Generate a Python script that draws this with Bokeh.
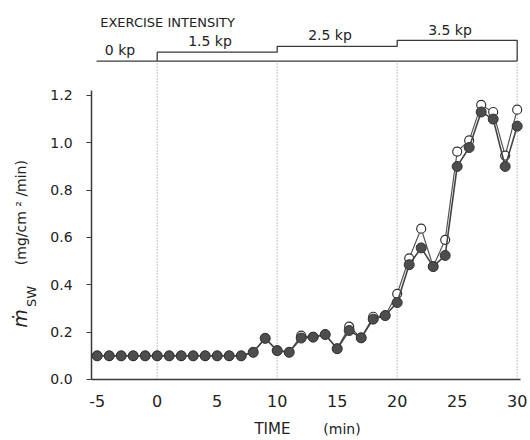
import math
from bokeh.plotting import figure
from bokeh.models import Range1d, FixedTicker, PrintfTickFormatter, Label, ColumnDataSource
from bokeh.embed import file_html
from bokeh.resources import INLINE

# ---- data ----
time_min = [-5, -4, -3, -2, -1, 0, 1, 2, 3, 4, 5, 6, 7, 8, 9, 10, 11, 12, 13, 14, 15,
            16, 17, 18, 19, 20, 21, 22, 23, 24, 25, 26, 27, 28, 29, 30]
msw_filled = [0.10, 0.10, 0.10, 0.10, 0.10, 0.10, 0.10, 0.10, 0.10, 0.10, 0.10, 0.10, 0.10,
              0.115, 0.174, 0.122, 0.115, 0.175, 0.179, 0.19, 0.13,
              0.207, 0.176, 0.255, 0.27, 0.325, 0.485, 0.556, 0.477, 0.524,
              0.90, 0.98, 1.13, 1.10, 0.90, 1.07]
msw_open = [0.10, 0.10, 0.10, 0.10, 0.10, 0.10, 0.10, 0.10, 0.10, 0.10, 0.10, 0.10, 0.10,
            0.115, 0.174, 0.122, 0.115, 0.185, 0.179, 0.19, 0.13,
            0.223, 0.176, 0.265, 0.27, 0.362, 0.512, 0.637, 0.477, 0.59,
            0.963, 1.01, 1.16, 1.13, 0.946, 1.14]
x_ticks = [-5, 0, 5, 10, 15, 20, 25, 30]
y_ticks = [0.0, 0.2, 0.4, 0.6, 0.8, 1.0, 1.2]
stage_start = [-5, 0, 10, 20]
stage_end = [0, 10, 20, 30]
stage_kp = [0.0, 1.5, 2.5, 3.5]
stage_labels = ["0 kp", "1.5 kp", "2.5 kp", "3.5 kp"]

FONT = "DejaVu Sans"
DARK = "#3a3a3a"
TXT = "#222"
X0 = -5.47   # left end of the time axis
Y_TOP = 1.22  # top end of the rate axis

p = figure(width=530, height=440, output_backend="svg", toolbar_location=None,
           x_range=Range1d(-13.06, 31.11), y_range=Range1d(-0.2577, 1.601),
           min_border=0)
p.grid.visible = False
p.outline_line_color = None
p.background_fill_color = "white"
p.border_fill_color = "white"

# axes, pinned at the data origin
p.xaxis.fixed_location = 0
p.xaxis.bounds = (X0, 30.3)
p.xaxis.ticker = FixedTicker(ticks=x_ticks)
p.xaxis.major_label_overrides = {t: str(t) for t in x_ticks}
p.xaxis.major_tick_out = 0
p.xaxis.major_tick_in = 0
p.xaxis.minor_tick_out = 0
p.xaxis.minor_tick_in = 0
p.xaxis.major_label_standoff = 16
p.xaxis.major_label_text_font = FONT
p.xaxis.major_label_text_font_size = "16px"
p.xaxis.major_label_text_color = TXT
p.xaxis.axis_line_color = DARK
p.xaxis.axis_line_width = 1.5

p.yaxis.fixed_location = X0
p.yaxis.bounds = (0, Y_TOP)
p.yaxis.ticker = FixedTicker(ticks=y_ticks)
p.yaxis.formatter = PrintfTickFormatter(format="%.1f")
p.yaxis.major_tick_out = 5
p.yaxis.major_tick_in = 0
p.yaxis.minor_tick_out = 0
p.yaxis.minor_tick_in = 0
p.yaxis.major_label_standoff = 14
p.yaxis.major_label_text_font = FONT
p.yaxis.major_label_text_font_size = "14px"
p.yaxis.major_label_text_color = TXT
p.yaxis.axis_line_color = DARK
p.yaxis.axis_line_width = 1.5
p.yaxis.major_tick_line_color = DARK

# header (exercise intensity steps)
base = 1.345
k = 0.025
p.line([stage_start[0] - 0.05, stage_end[-1]], [base, base], line_color=DARK, line_width=1.3)
sx, sy = [stage_start[1]], [base]
for s, e, kp in zip(stage_start[1:], stage_end[1:], stage_kp[1:]):
    sx += [s, e]
    sy += [base + k * kp, base + k * kp]
sx.append(stage_end[-1]); sy.append(base)
p.line(sx, sy, line_color=DARK, line_width=1.3)

# dotted dividers
for t in stage_end:
    p.line([t, t], [0, base], line_color="#888", line_width=1, line_dash="1 2")

for s, e, kp, lab in zip(stage_start, stage_end, stage_kp, stage_labels):
    cx = (s + e) / 2 - 0.6 if s >= 0 else s + 1.9
    p.add_layout(Label(x=cx, y=base + k * kp + 0.012, text=lab,
                       text_align="center", text_baseline="bottom",
                       text_font=FONT, text_font_size="14px", text_color=TXT))
p.add_layout(Label(x=-4.75, y=1.509, text="EXERCISE INTENSITY", text_align="left",
                   text_baseline="middle", text_font=FONT, text_font_size="13px",
                   text_color=TXT))

# data series
src = ColumnDataSource(dict(t=time_min, f=msw_filled, o=msw_open))
p.line("t", "o", source=src, line_color="#555", line_width=1.2)
p.scatter("t", "o", source=src, size=9, fill_color="white", line_color="#333", line_width=1.2)
p.line("t", "f", source=src, line_color="#444", line_width=1.6)
p.scatter("t", "f", source=src, size=10, fill_color="#4d4d4d", line_color="#333", line_width=1)

# axis titles
p.add_layout(Label(x=9.6, y=-0.2105, text="TIME", text_align="center", text_baseline="middle",
                   text_font=FONT, text_font_size="15px", text_color=TXT))
p.add_layout(Label(x=15.4, y=-0.2105, text="(min)", text_align="center", text_baseline="middle",
                   text_font=FONT, text_font_size="14px", text_color=TXT))
p.add_layout(Label(x=-11.47, y=0.258, text="ṁ", angle=math.pi / 2, text_align="center",
                   text_baseline="middle", text_font=FONT, text_font_style="italic",
                   text_font_size="19px", text_color=TXT))
p.add_layout(Label(x=-10.47, y=0.351, text="SW", angle=math.pi / 2, text_align="center",
                   text_baseline="middle", text_font=FONT,
                   text_font_size="13px", text_color=TXT))
p.add_layout(Label(x=-11.31, y=0.705, text="(mg/cm ² /min)", angle=math.pi / 2,
                   text_align="center", text_baseline="middle", text_font=FONT,
                   text_font_size="14px", text_color=TXT))

open("out.html", "w").write(file_html(p, INLINE))
